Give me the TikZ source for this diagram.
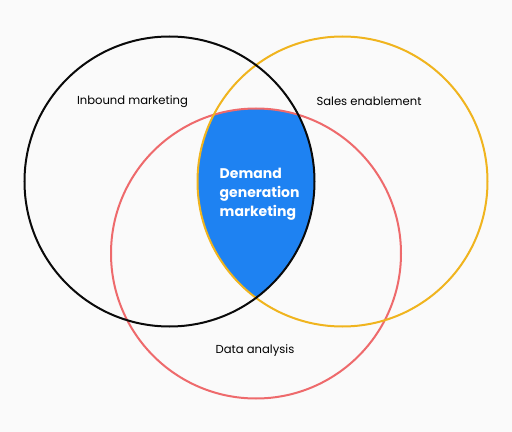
\documentclass[tikz,border=0pt]{standalone}
\usepackage{fontspec}
\setmainfont{Poppins}

\definecolor{paper}{RGB}{250,250,250}
\definecolor{inboundline}{RGB}{10,10,10}
\definecolor{salesline}{RGB}{240,180,30}
\definecolor{dataline}{RGB}{238,106,108}
\definecolor{demandblue}{RGB}{30,130,242}

\begin{document}
\begin{tikzpicture}[x=0.75pt,y=-0.75pt]
            \fill [paper] (0,0) rectangle (512,432);
            \useasboundingbox (0,0) rectangle (512,432);

            \coordinate (inbound) at (169.5,181.5);
            \coordinate (sales) at (342.5,181.5);
            \coordinate (data) at (256,253.5);

            % the part that all three share
            \begin{scope}
               \clip (inbound) circle (108.75pt);
               \clip (sales) circle (108.75pt);
               \fill [demandblue] (data) circle (108.75pt);
            \end{scope}

            \draw [dataline,line width=1.5pt] 
               (data) circle (108.75pt);
            \draw [salesline,line width=1.5pt] 
               (sales) circle (108.75pt);
            \draw [inboundline,line width=1.5pt] 
               (inbound) circle (108.75pt);

            \node (inboundtext) [font=\fontsize{8.7}{10}\selectfont] 
               at (132.5,101.5) {Inbound marketing};
            \node (salestext) [font=\fontsize{8.7}{10}\selectfont] 
               at (369,101.5) {Sales enablement};
            \node (datatext) [font=\fontsize{8.7}{10}\selectfont] 
               at (255,351) {Data analysis};
            \node (demandtext) [anchor=west,align=left,text=white,
               font=\fontsize{10.5}{14.25}\selectfont\bfseries] 
               at (215,194.5) {Demand\\generation\\marketing};
         \end{tikzpicture}
\end{document}
